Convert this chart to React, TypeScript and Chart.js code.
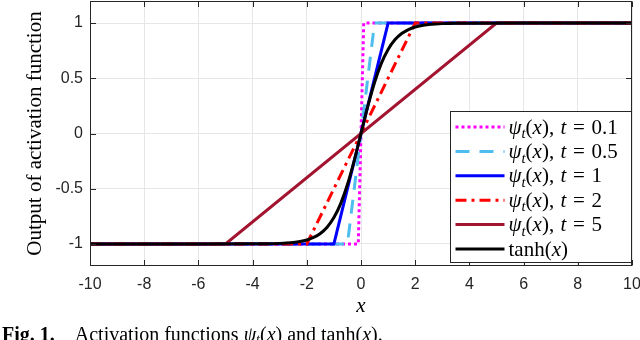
import React, { useEffect, useRef } from "react";
import { Chart, registerables } from "chart.js";

Chart.register(...registerables);

const xTicks = [-10, -8, -6, -4, -2, 0, 2, 4, 6, 8, 10];
const yTicks = [-1, -0.5, 0, 0.5, 1];
const yTickLabels = ["-1", "-0.5", "0", "0.5", "1"];

const psi01X = [-10, -0.1, 0.1, 10];
const psi01Y = [-1, -1, 1, 1];
const psi05X = [-10, -0.5, 0.5, 10];
const psi05Y = [-1, -1, 1, 1];
const psi1X = [-10, -1, 1, 10];
const psi1Y = [-1, -1, 1, 1];
const psi2X = [-10, -2, 2, 10];
const psi2Y = [-1, -1, 1, 1];
const psi5X = [-10, -5, 5, 10];
const psi5Y = [-1, -1, 1, 1];
const tanhX = [-10, -6, -4, -3.5, -3, -2.75, -2.5, -2.25, -2, -1.75, -1.5, -1.25, -1, -0.75, -0.5, -0.25, 0,
  0.25, 0.5, 0.75, 1, 1.25, 1.5, 1.75, 2, 2.25, 2.5, 2.75, 3, 3.5, 4, 6, 10];
const tanhY = [-1, -1, -0.9993, -0.9982, -0.9951, -0.9918, -0.9866, -0.978, -0.964, -0.9414, -0.9051, -0.8483, -0.7616, -0.6351, -0.4621, -0.2449, 0,
  0.2449, 0.4621, 0.6351, 0.7616, 0.8483, 0.9051, 0.9414, 0.964, 0.978, 0.9866, 0.9918, 0.9951, 0.9982, 0.9993, 1, 1];

const tLabels = ["0.1", "0.5", "1", "2", "5"];
const lastLabel = "tanh";
const yTitle = "Output of activation function";
const xTitle = "x";

const seriesStyles = [
  { color: "#ff00ff", dash: [3, 3] },
  { color: "#4dbeee", dash: [14, 10] },
  { color: "#0000ff", dash: [] as number[] },
  { color: "#ff0000", dash: [11, 5, 3, 5] },
  { color: "#a2142f", dash: [] as number[] },
  { color: "#000000", dash: [] as number[] },
];

const toPts = (xs: number[], ys: number[]) => xs.map((x, i) => ({ x, y: ys[i] }));

const SERIF = "'Liberation Serif', 'Times New Roman', serif";

function drawPieces(ctx: CanvasRenderingContext2D, x: number, y: number, size: number, pieces: any[]) {
  let cx = x;
  for (const p of pieces) {
    if (p.gap) { cx += p.gap * size; continue; }
    const fs = p.sub ? size * 0.7 : size;
    ctx.font = `${p.italic ? "italic " : ""}${fs}px ${SERIF}`;
    ctx.fillText(p.t, cx, p.sub ? y + size * 0.22 : y);
    cx += ctx.measureText(p.t).width;
  }
}

const zeroPad = (s: any) => { s.paddingTop = 0; s.paddingBottom = 0; s.paddingLeft = 0; s.paddingRight = 0; };

const framePlugin = {
  id: "frame",
  afterDatasetsDraw(chart: any) {
    const { ctx, chartArea: a, scales } = chart;
    const L = Math.round(a.left) + 0.5, R = Math.round(a.right) - 0.5;
    const T = Math.round(a.top) + 0.5, B = Math.round(a.bottom) - 0.5;
    ctx.save();
    ctx.strokeStyle = "#262626";
    ctx.lineWidth = 1;
    ctx.setLineDash([]);
    ctx.strokeRect(L, T, R - L, B - T);
    const tl = 5.5;
    ctx.beginPath();
    for (const v of xTicks) {
      const px = Math.round(scales.x.getPixelForValue(v)) + 0.5;
      ctx.moveTo(px, B); ctx.lineTo(px, B - tl);
      ctx.moveTo(px, T); ctx.lineTo(px, T + tl);
    }
    for (const v of yTicks) {
      const py = Math.round(scales.y.getPixelForValue(v)) + 0.5;
      ctx.moveTo(L, py); ctx.lineTo(L + tl, py);
      ctx.moveTo(R, py); ctx.lineTo(R - tl, py);
    }
    ctx.stroke();

    // legend
    const bx = Math.round(a.right - 182) + 0.5, by = Math.round(a.top + 110) + 0.5;
    const bw = R - bx, bh = Math.round(a.bottom - 4) + 0.5 - by;
    ctx.fillStyle = "#ffffff";
    ctx.fillRect(bx, by, bw, bh);
    ctx.strokeStyle = "#262626";
    ctx.strokeRect(bx, by, bw, bh);
    const rowY0 = by + 15.5, rowH = 24.4;
    const lx0 = bx + 5, lx1 = bx + 54, tx = bx + 58;
    ctx.textBaseline = "alphabetic";
    ctx.textAlign = "left";
    for (let i = 0; i < 6; i++) {
      const st = seriesStyles[i];
      const ry = rowY0 + i * rowH;
      ctx.beginPath();
      ctx.strokeStyle = st.color;
      ctx.lineWidth = 3;
      ctx.setLineDash(st.dash);
      ctx.lineCap = "butt";
      ctx.moveTo(lx0, ry); ctx.lineTo(lx1, ry);
      ctx.stroke();
      ctx.setLineDash([]);
      ctx.fillStyle = "#000000";
      const size = 21;
      const base = ry + 6.5;
      if (i < 5) {
        drawPieces(ctx, tx, base, size, [
          { t: "ψ", italic: true }, { t: "t", italic: true, sub: true }, { t: "(" }, { t: "x", italic: true }, { t: ")" },
          { t: "," }, { gap: 0.3 }, { t: "t", italic: true }, { gap: 0.32 }, { t: "=" }, { gap: 0.32 }, { t: tLabels[i] },
        ]);
      } else {
        drawPieces(ctx, tx, base, size, [{ t: lastLabel }, { t: "(" }, { t: "x", italic: true }, { t: ")" }]);
      }
    }
    ctx.restore();
  },
  afterDraw(chart: any) {
    const { ctx, chartArea: a } = chart;
    ctx.save();
    ctx.fillStyle = "#000000";
    ctx.textAlign = "center";
    ctx.textBaseline = "middle";
    ctx.font = `21px ${SERIF}`;
    ctx.translate(35, (a.top + a.bottom) / 2);
    ctx.rotate(-Math.PI / 2);
    ctx.fillText(yTitle, 0, 0);
    ctx.restore();
    ctx.save();
    ctx.fillStyle = "#000000";
    ctx.textAlign = "center";
    ctx.textBaseline = "alphabetic";
    ctx.font = `italic 21px ${SERIF}`;
    ctx.fillText(xTitle, (a.left + a.right) / 2, 312);
    ctx.restore();
  },
};

export default function App() {
  const ref = useRef<HTMLCanvasElement>(null);
  useEffect(() => {
    const sets = [
      [psi01X, psi01Y], [psi05X, psi05Y], [psi1X, psi1Y], [psi2X, psi2Y], [psi5X, psi5Y], [tanhX, tanhY],
    ];
    const chart = new Chart(ref.current!, {
      type: "scatter",
      data: {
        datasets: sets.map(([xs, ys], i) => ({
          data: toPts(xs, ys),
          showLine: true,
          borderColor: seriesStyles[i].color,
          borderDash: seriesStyles[i].dash,
          borderWidth: 3,
          pointRadius: 0,
          fill: false,
          order: 6 - i,
          cubicInterpolationMode: i === 5 ? "monotone" : "default",
        })) as any,
      },
      options: {
        animation: false,
        responsive: true,
        maintainAspectRatio: false,
        layout: { padding: { top: 1, right: 8, left: 0, bottom: 0 } },
        plugins: { legend: { display: false }, tooltip: { enabled: false } },
        scales: {
          x: {
            type: "linear",
            min: -10,
            max: 10,
            afterBuildTicks: (s: any) => { s.ticks = xTicks.map((v) => ({ value: v })); },
            afterFit: (s: any) => { s.height = 74; zeroPad(s); },
            grid: { color: "#e6e6e6", drawTicks: false },
            border: { display: false },
            ticks: { font: { family: "'Liberation Sans', Arial, sans-serif", size: 16 }, color: "#262626", padding: 9, maxRotation: 0 },
          },
          y: {
            type: "linear",
            min: -1.2,
            max: 1.2,
            afterBuildTicks: (s: any) => { s.ticks = yTicks.map((v) => ({ value: v })); },
            afterFit: (s: any) => { s.width = 90; zeroPad(s); },
            grid: { color: "#e6e6e6", drawTicks: false },
            border: { display: false },
            ticks: {
              font: { family: "'Liberation Sans', Arial, sans-serif", size: 16 },
              color: "#262626",
              padding: 7,
              callback: (v: any) => yTickLabels[yTicks.indexOf(Number(v))] ?? "",
            },
          },
        },
      },
      plugins: [framePlugin],
    });
    return () => chart.destroy();
  }, []);

  return (
    <div style={{ position: "fixed", left: 0, top: 0, width: 640, height: 340, overflow: "hidden", background: "#fff" }}>
      <div style={{ position: "absolute", left: 0, top: 0, width: 640, height: 340 }}>
        <canvas ref={ref} />
      </div>
      <div
        style={{
          position: "absolute",
          left: 2,
          top: 324,
          fontFamily: SERIF,
          fontSize: 20,
          lineHeight: "20px",
          whiteSpace: "nowrap",
          color: "#000",
        }}
      >
        <b>Fig. 1.</b>
        <span style={{ display: "inline-block", width: 20 }} />
        Activation functions <i>ψ</i>
        <sub style={{ fontSize: 14, verticalAlign: "-3px", lineHeight: 0 }}><i>t</i></sub>(<i>x</i>) and tanh(<i>x</i>).
      </div>
    </div>
  );
}
